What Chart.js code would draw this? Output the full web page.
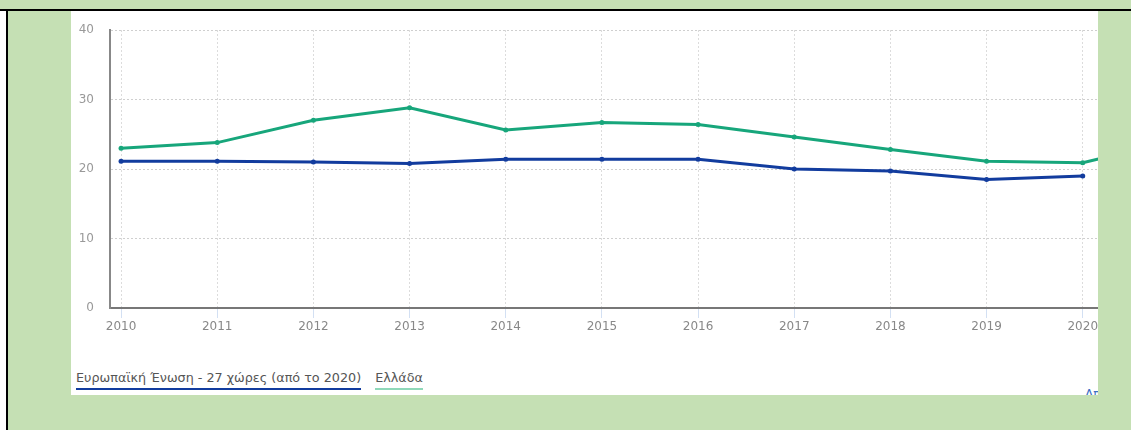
<!DOCTYPE html>
<html lang="el">
<head>
<meta charset="utf-8">
<title>Ευρωπαϊκή Ένωση - Ελλάδα</title>
<script src="https://cdn.jsdelivr.net/npm/chart.js@4"></script>
<style>
    html, body { margin: 0; padding: 0; }
    body { width: 1131px; height: 430px; position: relative; overflow: hidden; background: #fff; }
    .bg { position: absolute; left: 8px; top: 11px; right: 0; bottom: 0; background: #c5e0b4; }
    .top-strip { position: absolute; left: 0; top: 0; width: 1131px; height: 9px; background: #c5e0b4; }
    .line-h { position: absolute; left: 0; top: 9px; width: 1131px; height: 2px; background: #000; }
    .line-v { position: absolute; left: 6px; top: 9px; width: 2px; height: 421px; background: #000; }
    .panel { position: absolute; left: 71px; top: 11px; width: 1027px; height: 384px; background: #fff; overflow: hidden; }
    .panel canvas { position: absolute; left: 0; top: 0; }
    .legend { position: absolute; left: 5px; top: 359px; font-family: "DejaVu Sans", sans-serif; font-size: 12.75px; color: #555; white-space: nowrap; }
    .legend span { display: inline-block; padding-bottom: 3px; margin-right: 14px; border-bottom: 2px solid; }
    .more { position: absolute; left: 1014px; top: 376px; font-family: "DejaVu Sans", sans-serif; font-size: 12px; color: #3b6fc4; white-space: nowrap; }
</style>
</head>
<body>
<div class="top-strip"></div>
<div class="bg"></div>
<div class="line-h"></div>
<div class="line-v"></div>
<div class="panel">
    <canvas id="chart" width="1160" height="330"></canvas>
    <div class="legend" id="legend"></div>
    <div class="more">Αποποίηση</div>
</div>
<script>
// values
const years = [2010, 2011, 2012, 2013, 2014, 2015, 2016, 2017, 2018, 2019, 2020, 2021];
const eu27 = [21.1, 21.1, 21.0, 20.8, 21.4, 21.4, 21.4, 20.0, 19.7, 18.5, 19.0];
const greece = [23.0, 23.8, 27.0, 28.8, 25.6, 26.7, 26.4, 24.6, 22.8, 21.1, 20.9, 24.2];
const yTicks = [0, 10, 20, 30, 40];
const seriesNames = ["Ευρωπαϊκή Ένωση - 27 χώρες (από το 2020)", "Ελλάδα"];

const BLUE = "#123c9e";
const GREEN = "#17a67b";

function toPoints(values) {
    return values.map((v, i) => ({ x: years[i], y: v }));
}

function makeLine(label, values, color) {
    return {
        label: label,
        data: toPoints(values),
        borderColor: color,
        backgroundColor: color,
        borderWidth: 3,
        pointRadius: 2.5,
        pointBorderWidth: 0,
        tension: 0
    };
}

const tickFont = { family: "DejaVu Sans", size: 12 };

const chart = new Chart(document.getElementById("chart"), {
    type: "line",
    data: {
        datasets: [
            makeLine(seriesNames[0], eu27, BLUE),
            makeLine(seriesNames[1], greece, GREEN)
        ]
    },
    options: {
        responsive: false,
        animation: false,
        layout: { padding: { top: 19, left: 0, right: 0, bottom: 0 } },
        plugins: { legend: { display: false }, tooltip: { enabled: false } },
        scales: {
            x: {
                type: "linear",
                min: 2009.885,
                max: 2021.5,
                afterBuildTicks: (scale) => { scale.ticks = years.map(y => ({ value: y })); },
                afterFit: (scale) => { scale.height = 33; },
                grid: { color: "#dcdcdc", tickColor: "#d3e0f3", tickLength: 10, lineWidth: 1 },
                border: { color: "#777", width: 2, dash: [2, 2] },
                ticks: { color: "#888", font: tickFont, padding: 2, maxRotation: 0, autoSkip: false, callback: (v) => String(v) }
            },
            y: {
                min: 0,
                max: 40,
                afterBuildTicks: (scale) => { scale.ticks = yTicks.map(v => ({ value: v })); },
                afterFit: (scale) => {
                    scale.width = 39;
                    // tick padding would otherwise push the plot top down
                    scale.paddingTop = 7;
                    scale.paddingBottom = 7;
                },
                grid: { color: "#cfcfcf", drawTicks: false, lineWidth: 1 },
                border: { color: "#888", width: 2, dash: [2, 2] },
                ticks: { color: "#999", font: tickFont, padding: 16 }
            }
        }
    }
});

// html legend, underlined in series colours
const legend = document.getElementById("legend");
chart.data.datasets.forEach((ds, i) => {
    const item = document.createElement("span");
    item.textContent = ds.label;
    item.style.borderBottomColor = i === 0 ? BLUE : "#8fd8b9";
    legend.appendChild(item);
});
</script>
</body>
</html>
